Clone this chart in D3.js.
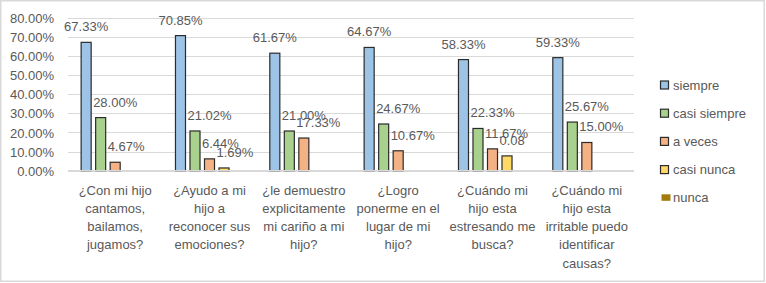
<!DOCTYPE html>
<html><head><meta charset="utf-8">
<script src="https://cdn.jsdelivr.net/npm/d3@7/dist/d3.min.js"></script>
<style>
html,body{margin:0;padding:0;background:#fff;}
svg{display:block;}
text{font-family:"Liberation Sans",Arial,sans-serif;font-size:13px;fill:#595959;}
</style></head>
<body>
<script>
const categories = [
  ["¿Con mi hijo","cantamos,","bailamos,","jugamos?"],
  ["¿Ayudo a mi","hijo a","reconocer sus","emociones?"],
  ["¿le demuestro","explicitamente","mi cariño a mi","hijo?"],
  ["¿Logro","ponerme en el","lugar de mi","hijo?"],
  ["¿Cuándo mi","hijo esta","estresando me","busca?"],
  ["¿Cuándo mi","hijo esta","irritable puedo","identificar","causas?"]
];
const seriesNames = ["siempre","casi siempre","a veces","casi nunca","nunca"];
const siempre     = [67.33, 70.85, 61.67, 64.67, 58.33, 59.33];
const casiSiempre = [28.00, 21.02, 21.00, 24.67, 22.33, 25.67];
const aVeces      = [4.67, 6.44, 17.33, 10.67, 11.67, 15.00];
const casiNunca   = [0, 1.69, 0, 0, 8, 0];
const nunca       = [0, 0, 0, 0, 0, 0];
// label text as shown in the source (one value shown as a raw fraction)
const casiNuncaLabels = ["", "1.69%", "", "", "0.08", ""];
const yTicks = [0,10,20,30,40,50,60,70,80];
const colors = ["#9dc3e6","#a9d18e","#f4b183","#ffd966","#a27b0c"];

const W = 766, H = 283;
const svg = d3.select("body").append("svg").attr("width", W).attr("height", H);

svg.append("rect").attr("x",0.75).attr("y",0.75).attr("width",W-2.5).attr("height",H-2.5)
  .attr("fill","#fff").attr("stroke","#d9d9d9").attr("stroke-width",1.5);

const plotL = 68, plotR = 634, plotT = 17.6, plotB = 170.7;
const y = d3.scaleLinear().domain([0,80]).range([plotB, plotT]);
const x0 = d3.scaleBand().domain(d3.range(categories.length)).range([plotL, plotR]).paddingInner(0.268).paddingOuter(0.134);
const x1 = d3.scaleBand().domain(seriesNames).range([0, x0.bandwidth()]).paddingInner(0.24).paddingOuter(0);

// gridlines
svg.append("g").selectAll("line").data(yTicks).join("line")
  .attr("x1", plotL).attr("x2", plotR)
  .attr("y1", d => Math.round(y(d))+0.5).attr("y2", d => Math.round(y(d))+0.5)
  .attr("stroke","#d9d9d9").attr("stroke-width",1);

// y axis labels
const yAxis = d3.axisLeft(y).tickValues(yTicks).tickFormat(d => d3.format(".2f")(d) + "%").tickSize(0).tickPadding(0);
const yg = svg.append("g").attr("transform", `translate(54,0)`).call(yAxis);
yg.select(".domain").remove();
yg.selectAll("text").attr("fill","#595959").style("font-size","13px").attr("dy","0.36em");

const seriesVals = [siempre, casiSiempre, aVeces, casiNunca, nunca];
const fmt = v => d3.format(".2f")(v) + "%";

const data = [];
seriesVals.forEach((vals, si) => vals.forEach((v, ci) => data.push({si, ci, v})));

svg.append("g").selectAll("rect").data(data.filter(d => d.v > 0)).join("rect")
  .attr("x", d => x0(d.ci) + x1(seriesNames[d.si]) + 0.5)
  .attr("y", d => y(d.v) + 0.5)
  .attr("width", x1.bandwidth() - 1)
  .attr("height", d => plotB - y(d.v) - 0.5)
  .attr("fill", d => colors[d.si])
  .attr("stroke", "#2b2b2b").attr("stroke-width", 1.2);

// data labels
svg.append("g").selectAll("text").data(data.filter(d => d.v > 0)).join("text")
  .attr("x", d => {
    const bx = x0(d.ci) + x1(seriesNames[d.si]);
    return d.si === 0 ? bx + x1.bandwidth()/2 : bx - 2;
  })
  .attr("y", d => y(d.v) - 10.5)
  .attr("text-anchor", d => d.si === 0 ? "middle" : "start")
  .text(d => d.si === 3 ? casiNuncaLabels[d.ci] : fmt(d.v));

// category labels
const cg = svg.append("g");
categories.forEach((lines, ci) => {
  const t = cg.append("text").attr("text-anchor","middle")
    .attr("x", x0(ci) + x0.bandwidth()/2).attr("y", 194.5);
  lines.forEach((ln, i) => t.append("tspan").attr("x", x0(ci) + x0.bandwidth()/2)
    .attr("dy", i === 0 ? 0 : 18.3).text(ln));
});

// axis line
svg.append("line").attr("x1", plotL).attr("x2", plotR).attr("y1", plotB).attr("y2", plotB)
  .attr("stroke","#d9d9d9").attr("stroke-width",1.2);

// legend
const lg = svg.append("g");
seriesNames.forEach((n, i) => {
  const cy = 85 + i * 28.2;
  if (i < 4) {
    lg.append("rect").attr("x", 660.5).attr("y", cy - 4).attr("width", 8).attr("height", 8)
      .attr("fill", colors[i]).attr("stroke", "#2b2b2b").attr("stroke-width", 1.2);
  } else {
    lg.append("rect").attr("x", 661.5).attr("y", cy - 3.5).attr("width", 9).attr("height", 6.5)
      .attr("fill", colors[i]);
  }
  lg.append("text").attr("x", 673).attr("y", cy + 4.5).text(n);
});
</script>
</body></html>
